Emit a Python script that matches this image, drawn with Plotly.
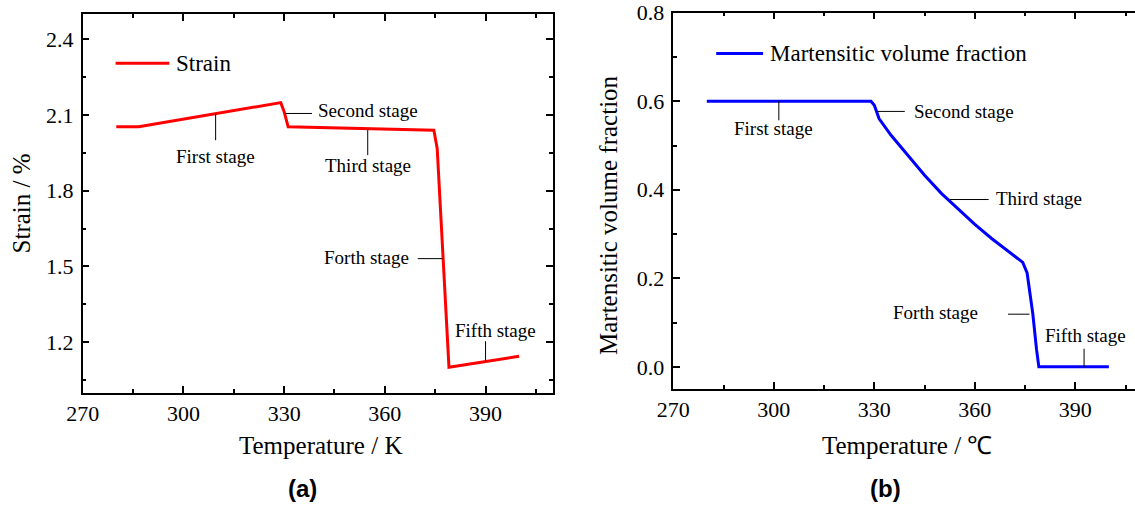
import plotly.graph_objects as go

# ---------------- data ----------------
strain_T = [280, 286.7, 329.0, 330.0, 331.2, 374.6, 375.6, 379.1, 400.0]
strain_val = [2.053, 2.053, 2.149, 2.113, 2.053, 2.040, 1.967, 1.101, 1.144]

mvf_T = [280, 329.0, 330.0, 331.4, 335, 340, 345, 350, 355, 360, 365, 370,
         374.3, 375.6, 377.3, 378.4, 379.1, 400.0]
mvf_val = [0.6, 0.6, 0.591, 0.561, 0.523, 0.478, 0.433, 0.392, 0.357, 0.322,
           0.290, 0.261, 0.236, 0.212, 0.120, 0.040, 0.0, 0.0]

x_ticks = [270, 300, 330, 360, 390]
strain_ticks = [1.2, 1.5, 1.8, 2.1, 2.4]
mvf_ticks = [0.0, 0.2, 0.4, 0.6, 0.8]

# stage labels: (text, x, y, xanchor) and leader lines (x0, y0, x1, y1)
left_labels = [("First stage", 309.6, 1.934, "center"),
               ("Second stage", 339.6, 2.118, "left"),
               ("Third stage", 354.9, 1.899, "center"),
               ("Forth stage", 367.8, 1.536, "right"),
               ("Fifth stage", 393.0, 1.245, "center")]
left_leaders = [(309.6, 2.106, 309.6, 2.000),
                (330.4, 2.106, 338.3, 2.106),
                (354.9, 2.043, 354.9, 1.941),
                (369.8, 1.531, 377.2, 1.531),
                (390.0, 1.127, 390.0, 1.204)]
right_labels = [("First stage", 300.0, 0.539, "center"),
                ("Second stage", 341.2, 0.577, "left"),
                ("Third stage", 365.7, 0.380, "left"),
                ("Forth stage", 361.4, 0.122, "right"),
                ("Fifth stage", 393.0, 0.070, "center")]
right_leaders = [(301.5, 0.600, 301.5, 0.557),
                 (330.8, 0.577, 339.1, 0.577),
                 (352.5, 0.378, 364.1, 0.378),
                 (369.9, 0.119, 376.3, 0.119),
                 (392.6, 0.000, 392.6, 0.041)]

W, H = 1135, 505
SERIF = "Liberation Serif, Times New Roman, serif"
SANS = "Liberation Sans, Arial, sans-serif"


def px(xp):
    return xp / W


def py(yp):
    return 1 - yp / H


fig = go.Figure()
fig.add_trace(go.Scatter(x=strain_T, y=strain_val, mode="lines",
                         line=dict(color="#FF0000", width=3),
                         xaxis="x", yaxis="y", showlegend=False))
fig.add_trace(go.Scatter(x=mvf_T, y=mvf_val, mode="lines",
                         line=dict(color="#0000FF", width=3),
                         xaxis="x2", yaxis="y2", showlegend=False))

axis_common = dict(showline=True, linecolor="black", linewidth=1.5,
                   ticks="inside", ticklen=7, tickwidth=1.5, tickcolor="black",
                   showgrid=False, zeroline=False, automargin=False,
                   tickfont=dict(family=SERIF, size=22, color="black"))

fig.update_layout(
    width=W, height=H,
    margin=dict(l=0, r=0, t=0, b=0),
    paper_bgcolor="white", plot_bgcolor="white",
    xaxis=dict(domain=[px(82.7), px(552.7)], range=[270, 410],
               tickvals=x_ticks, mirror="ticks", anchor="y",
               minor=dict(dtick=15, tick0=270, ticks="inside", ticklen=4,
                          tickwidth=1.5, tickcolor="black"),
               **axis_common),
    yaxis=dict(domain=[py(392.7), py(14)], range=[1.0, 2.5],
               tickvals=strain_ticks, tickformat=".1f", mirror="ticks",
               anchor="x", ticklabelstandoff=3,
               minor=dict(dtick=0.15, tick0=1.05, ticks="inside", ticklen=4,
                          tickwidth=1.5, tickcolor="black"),
               **axis_common),
    xaxis2=dict(domain=[px(673.3), 1.0], range=[270, 407.8],
                tickvals=x_ticks, mirror="ticks", anchor="y2",
                minor=dict(dtick=15, tick0=270, ticks="inside", ticklen=4,
                           tickwidth=1.5, tickcolor="black"),
                **axis_common),
    yaxis2=dict(domain=[py(389), py(12.7)], range=[-0.05, 0.8],
                tickvals=mvf_ticks, tickformat=".1f", mirror=False,
                anchor="x2", ticklabelstandoff=3,
                minor=dict(dtick=0.1, tick0=0.1, ticks="inside", ticklen=4,
                           tickwidth=1.5, tickcolor="black"),
                **axis_common),
)

annotations = []
shapes = []
for (t, x, y, anc) in left_labels:
    annotations.append(dict(text=t, x=x, y=y, xref="x", yref="y", xanchor=anc,
                            yanchor="middle", showarrow=False,
                            font=dict(family=SERIF, size=19, color="black")))
for (x0, y0, x1, y1) in left_leaders:
    shapes.append(dict(type="line", xref="x", yref="y", x0=x0, y0=y0, x1=x1, y1=y1,
                       line=dict(color="black", width=1)))
for (t, x, y, anc) in right_labels:
    annotations.append(dict(text=t, x=x, y=y, xref="x2", yref="y2", xanchor=anc,
                            yanchor="middle", showarrow=False,
                            font=dict(family=SERIF, size=19, color="black")))
for (x0, y0, x1, y1) in right_leaders:
    shapes.append(dict(type="line", xref="x2", yref="y2", x0=x0, y0=y0, x1=x1, y1=y1,
                       line=dict(color="black", width=1)))

# legends (drawn manually)
shapes.append(dict(type="line", xref="x", yref="y", x0=279.8, x1=295.8, y0=2.305, y1=2.305,
                   line=dict(color="#FF0000", width=3)))
annotations.append(dict(text="Strain", x=297.3, y=2.305, xref="x", yref="y",
                        xanchor="left", yanchor="middle", showarrow=False,
                        font=dict(family=SERIF, size=23, color="black")))
shapes.append(dict(type="line", xref="x2", yref="y2", x0=282.8, x1=296.8, y0=0.708, y1=0.708,
                   line=dict(color="#0000FF", width=3)))
annotations.append(dict(text="Martensitic volume fraction", x=298.4, y=0.708, xref="x2", yref="y2",
                        xanchor="left", yanchor="middle", showarrow=False,
                        font=dict(family=SERIF, size=23, color="black")))

# axis titles
titles = [("Strain / %", 21.4, 203, -90),
          ("Temperature / K", 320, 445, 0),
          ("Martensitic volume fraction", 609, 215, -90),
          ("Temperature / ℃", 906.7, 445, 0)]
for (t, xp, yp, ang) in titles:
    annotations.append(dict(text=t, x=px(xp), y=py(yp), xref="paper", yref="paper",
                            xanchor="center", yanchor="middle", textangle=ang,
                            showarrow=False, font=dict(family=SERIF, size=25, color="black")))

# panel labels
panels = [("<b>(a)</b>", 302), ("<b>(b)</b>", 885)]
for (t, xp) in panels:
    annotations.append(dict(text=t, x=px(xp), y=py(504), xref="paper", yref="paper",
                            xanchor="center", yanchor="bottom", showarrow=False,
                            font=dict(family=SANS, size=24, color="black")))

fig.update_layout(annotations=annotations, shapes=shapes)
fig.write_html("out.html")
